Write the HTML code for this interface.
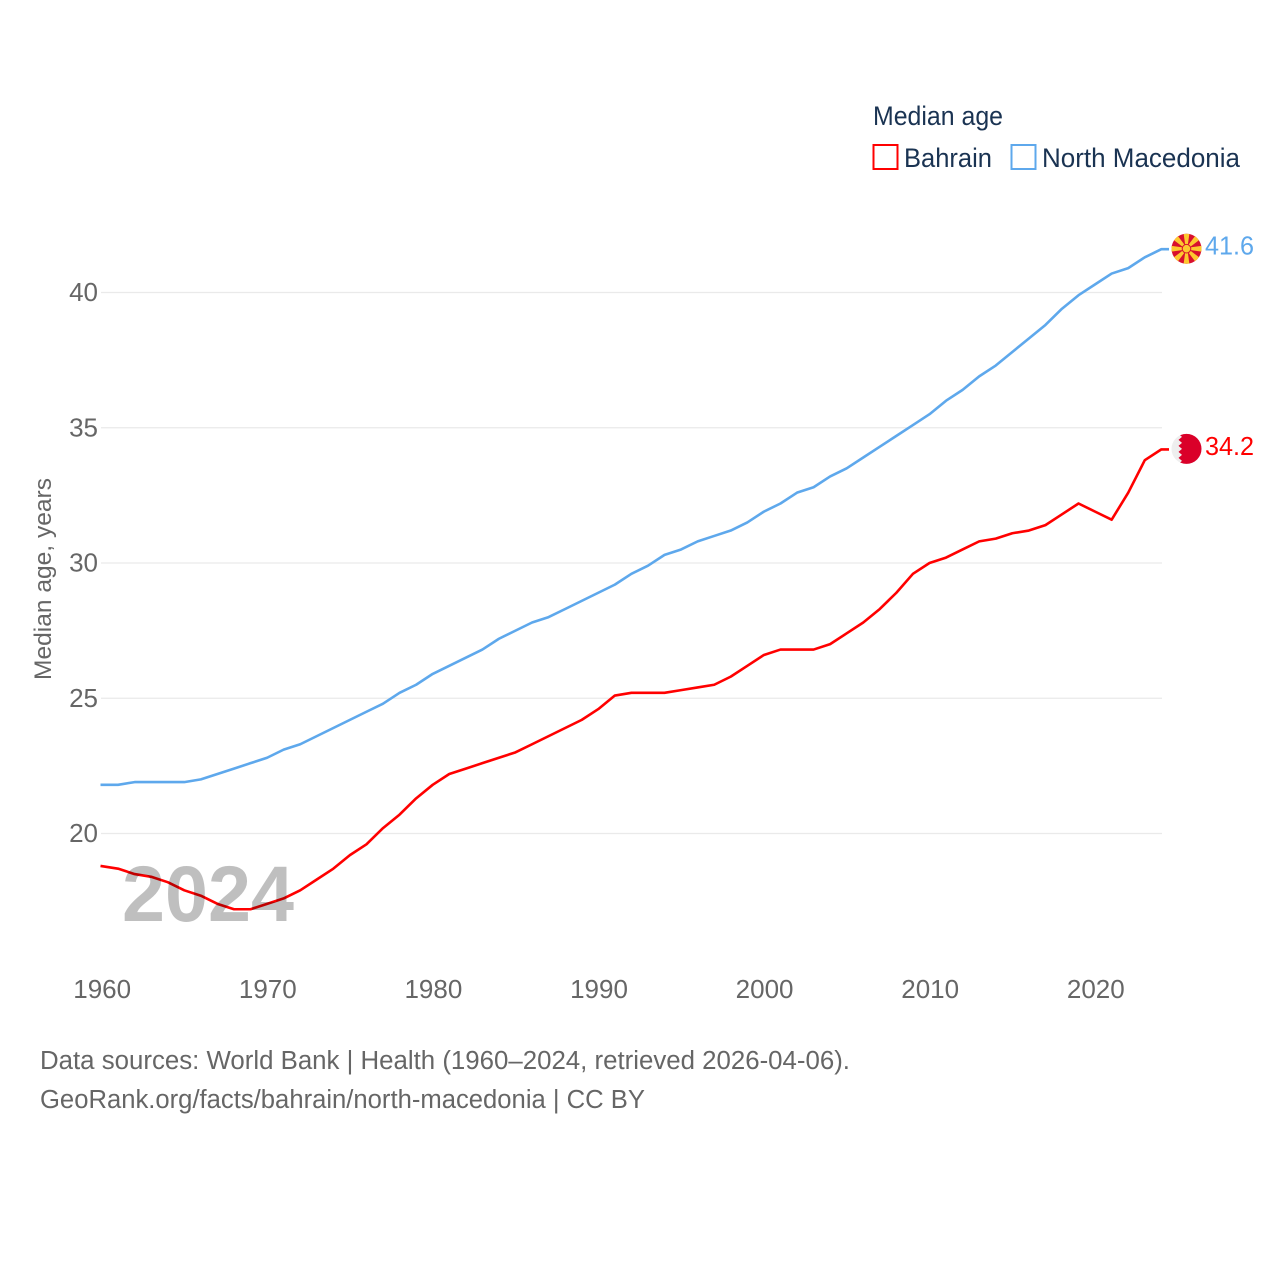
<!DOCTYPE html>
<html lang="en">
<head>
<meta charset="utf-8">
<title>Median age: Bahrain and North Macedonia</title>
<style>
html,body{margin:0;padding:0;background:#fff;width:1280px;height:1280px;overflow:hidden}
svg{display:block}
text{font-family:"Liberation Sans",sans-serif}
</style>
</head>
<body>
<svg id="chart" xmlns="http://www.w3.org/2000/svg" width="1280" height="1280" viewBox="0 0 1280 1280">
  <defs>
    <clipPath id="flag-clip"><circle cx="0" cy="0" r="15"></circle></clipPath>
  </defs>
  <g id="grid"></g>
  <g id="yticks"></g>
  <g id="xticks"></g>
  <text transform="translate(51,680) rotate(-90)" font-size="24.5" fill="#666" textLength="202" lengthAdjust="spacingAndGlyphs">Median age, years</text>

  <g>
    <text x="873" y="125" font-size="26.5" fill="#1a3352" textLength="130" lengthAdjust="spacingAndGlyphs">Median age</text>
    <g>
      <rect x="873.5" y="145" width="24" height="24" fill="#fff" stroke="#ff0000" stroke-width="2"></rect>
      <text x="904" y="167" font-size="26.5" fill="#1a3352" textLength="88" lengthAdjust="spacingAndGlyphs">Bahrain</text>
    </g>
    <g>
      <rect x="1011.5" y="145" width="24" height="24" fill="#fff" stroke="#5ea8ec" stroke-width="2"></rect>
      <text x="1042" y="167" font-size="26.5" fill="#1a3352" textLength="198" lengthAdjust="spacingAndGlyphs">North Macedonia</text>
    </g>
  </g>

  <path id="line-bahrain" fill="none" stroke="#ff0000" stroke-width="2.6" stroke-linejoin="round"></path>
  <path id="line-macedonia" fill="none" stroke="#5ea8ec" stroke-width="2.6" stroke-linejoin="round"></path>

  <text x="122" y="921" font-size="79" font-weight="700" fill="#000" fill-opacity="0.25" textLength="172" lengthAdjust="spacingAndGlyphs">2024</text>

  <g id="flag-macedonia">
    <g clip-path="url(#flag-clip)">
      <rect x="-16" y="-16" width="32" height="32" fill="#d8102e"></rect>
      <g fill="#fdc82f">
        <polygon points="-0.8,0 0.8,0 3,-16 -3,-16"></polygon>
        <polygon points="-0.8,0 0.8,0 3,-16 -3,-16" transform="rotate(45)"></polygon>
        <polygon points="-0.8,0 0.8,0 3,-16 -3,-16" transform="rotate(90)"></polygon>
        <polygon points="-0.8,0 0.8,0 3,-16 -3,-16" transform="rotate(135)"></polygon>
        <polygon points="-0.8,0 0.8,0 3,-16 -3,-16" transform="rotate(180)"></polygon>
        <polygon points="-0.8,0 0.8,0 3,-16 -3,-16" transform="rotate(225)"></polygon>
        <polygon points="-0.8,0 0.8,0 3,-16 -3,-16" transform="rotate(270)"></polygon>
        <polygon points="-0.8,0 0.8,0 3,-16 -3,-16" transform="rotate(315)"></polygon>
      </g>
      <circle cx="0" cy="0" r="4.8" fill="#d8102e"></circle>
      <circle cx="0" cy="0" r="3.8" fill="#fdc82f"></circle>
    </g>
  </g>
  <g id="flag-bahrain">
    <g clip-path="url(#flag-clip)">
      <rect x="-16" y="-16" width="32" height="32" fill="#eeeeee"></rect>
      <polygon fill="#da0029" points="-8,-16 -8,-15 -4.5,-12 -8,-9 -4.5,-6 -8,-3 -4.5,0 -8,3 -4.5,6 -8,9 -4.5,12 -8,15 -8,16 16,16 16,-16"></polygon>
    </g>
  </g>

  <text id="value-macedonia" x="1205" font-size="25.5" fill="#5ea8ec" textLength="49" lengthAdjust="spacingAndGlyphs"></text>
  <text id="value-bahrain" x="1205" font-size="25.5" fill="#ff0000" textLength="49" lengthAdjust="spacingAndGlyphs"></text>

  <g>
    <text x="40" y="1069" font-size="25.5" fill="#666" textLength="810" lengthAdjust="spacingAndGlyphs">Data sources: World Bank | Health (1960–2024, retrieved 2026-04-06).</text>
    <text x="40" y="1108" font-size="25.5" fill="#666" textLength="605" lengthAdjust="spacingAndGlyphs">GeoRank.org/facts/bahrain/north-macedonia | CC BY</text>
  </g>
</svg>
<script>
var startYear = 1960;
var bahrainValues = [18.8,18.7,18.5,18.4,18.2,17.9,17.7,17.4,17.2,17.2,
  17.4,17.6,17.9,18.3,18.7,19.2,19.6,20.2,20.7,21.3,
  21.8,22.2,22.4,22.6,22.8,23.0,23.3,23.6,23.9,24.2,
  24.6,25.1,25.2,25.2,25.2,25.3,25.4,25.5,25.8,26.2,
  26.6,26.8,26.8,26.8,27.0,27.4,27.8,28.3,28.9,29.6,
  30.0,30.2,30.5,30.8,30.9,31.1,31.2,31.4,31.8,32.2,
  31.9,31.6,32.6,33.8,34.2];
var macedoniaValues = [21.8,21.8,21.9,21.9,21.9,21.9,22.0,22.2,22.4,22.6,
  22.8,23.1,23.3,23.6,23.9,24.2,24.5,24.8,25.2,25.5,
  25.9,26.2,26.5,26.8,27.2,27.5,27.8,28.0,28.3,28.6,
  28.9,29.2,29.6,29.9,30.3,30.5,30.8,31.0,31.2,31.5,
  31.9,32.2,32.6,32.8,33.2,33.5,33.9,34.3,34.7,35.1,
  35.5,36.0,36.4,36.9,37.3,37.8,38.3,38.8,39.4,39.9,
  40.3,40.7,40.9,41.3,41.6];
var yTickValues = [20,25,30,35,40];
var xTickValues = [1960,1970,1980,1990,2000,2010,2020];

var SVG_NS = 'http://www.w3.org/2000/svg';
function xScale(year){ return 101.5 + (year - 1960) * 16.56; }
function yScale(v){ return 833.5 - (v - 20) * 27.05; }
function linePath(values){
  var d = '';
  for (var i = 0; i < values.length; i++) {
    var px = xScale(startYear + i);
    if (i === 0) { px -= 1; }
    d += (i ? 'L' : 'M') + px.toFixed(2) + ' ' + yScale(values[i]).toFixed(2);
  }
  // short flat connector from the last point towards the flag
  d += 'L1169 ' + yScale(values[values.length - 1]).toFixed(2);
  return d;
}

document.getElementById('line-bahrain').setAttribute('d', linePath(bahrainValues));
document.getElementById('line-macedonia').setAttribute('d', linePath(macedoniaValues));

var grid = document.getElementById('grid');
var yticks = document.getElementById('yticks');
yTickValues.forEach(function(v){
  var line = document.createElementNS(SVG_NS, 'line');
  
  
  line.setAttribute('x1', 101);
  line.setAttribute('x2', 1162);
  line.setAttribute('y1', yScale(v));
  line.setAttribute('y2', yScale(v));
  line.setAttribute('stroke', '#eaeaea');
  line.setAttribute('stroke-width', '1.3');
  grid.appendChild(line);
  var t = document.createElementNS(SVG_NS, 'text');
  
  
  t.setAttribute('x', 98);
  t.setAttribute('y', yScale(v) + 8.5);
  t.setAttribute('text-anchor', 'end');
  t.setAttribute('font-size', '26');
  t.setAttribute('fill', '#666');
  t.textContent = v;
  yticks.appendChild(t);
});

var xticks = document.getElementById('xticks');
xTickValues.forEach(function(year){
  var t = document.createElementNS(SVG_NS, 'text');
  
  
  t.setAttribute('x', xScale(year) + 0.7);
  t.setAttribute('y', 998);
  t.setAttribute('text-anchor', 'middle');
  t.setAttribute('font-size', '26');
  t.setAttribute('fill', '#666');
  t.textContent = year;
  xticks.appendChild(t);
});

function placeEnd(flagId, valueId, values){
  var last = values[values.length - 1];
  var y = yScale(last);
  document.getElementById(flagId).setAttribute('transform', 'translate(1186.5,' + (y - 0.5) + ')');
  var label = document.getElementById(valueId);
  label.setAttribute('y', y + 5.5);
  label.textContent = last.toFixed(1);
}
placeEnd('flag-macedonia', 'value-macedonia', macedoniaValues);
placeEnd('flag-bahrain', 'value-bahrain', bahrainValues);
</script>
</body>
</html>
